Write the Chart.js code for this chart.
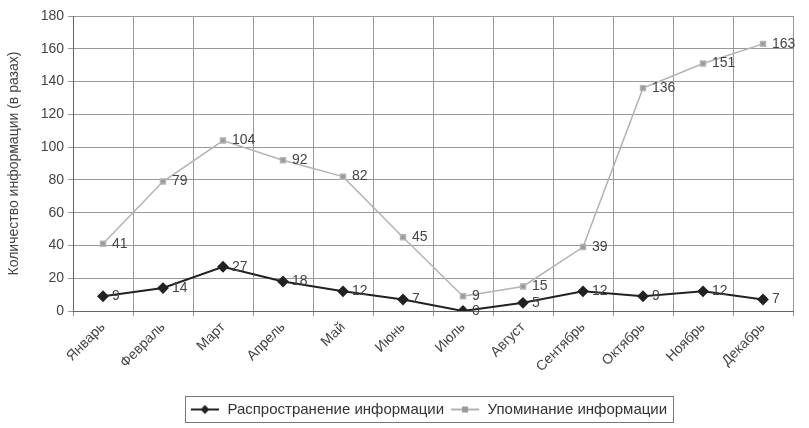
<!DOCTYPE html>
<html>
  <head>
    <title>Chart</title>
    <script src="https://cdn.jsdelivr.net/npm/chart.js"></script>
    <style>
      body { margin: 0; background: #fff; }
      .grafico { width: 809px; height: 428px; }
    </style>
  </head>
  <body>
    <div class="grafico">
      <canvas id="informacia"></canvas>
    </div>

    <script>
      var meses = ["Январь", "Февраль", "Март", "Апрель", "Май", "Июнь",
        "Июль", "Август", "Сентябрь", "Октябрь", "Ноябрь", "Декабрь"];
      var rasprostranenie = [9, 14, 27, 18, 12, 7, 0, 5, 12, 9, 12, 7];
      var upominanie = [41, 79, 104, 92, 82, 45, 9, 15, 39, 136, 151, 163];
      var yTicks = [0, 20, 40, 60, 80, 100, 120, 140, 160, 180];

      var cinza = "#444";
      var fonte = "'Liberation Sans', Arial";

      // small legend symbol: a line with the marker in the middle
      function simbolo(cor, forma) {
        var c = document.createElement("canvas");
        c.width = 30; c.height = 12;
        var g = c.getContext("2d");
        g.strokeStyle = cor; g.lineWidth = forma == "losango" ? 2 : 1.5;
        g.beginPath(); g.moveTo(1, 6); g.lineTo(29, 6); g.stroke();
        g.fillStyle = cor;
        g.beginPath();
        if (forma == "losango") {
          g.moveTo(15, 1.5); g.lineTo(19.5, 6); g.lineTo(15, 10.5); g.lineTo(10.5, 6);
        } else {
          g.rect(12, 3, 6, 6);
        }
        g.closePath(); g.fill();
        return c;
      }

      var rotulos = {
        id: "rotulos",
        afterLayout(chart) {
          // legend sits a little right of centre in the original
          chart.legend.left += 30;
          chart.legend.right += 30;
        },
        afterDatasetsDraw(chart) {
          var ctx = chart.ctx;
          ctx.save();
          ctx.font = "14px " + fonte;
          ctx.fillStyle = cinza;
          ctx.textBaseline = "middle";
          chart.data.datasets.forEach((ds, i) => {
            chart.getDatasetMeta(i).data.forEach((p, j) => {
              ctx.fillText(String(ds.data[j]), p.x + 9, p.y);
            });
          });
          ctx.restore();
        },
        afterDraw(chart) {
          // frame round the legend items only
          var caixas = chart.legend.legendHitBoxes;
          if (!caixas || !caixas.length) return;
          var esq = Math.min(...caixas.map((b) => b.left)) - 5;
          var dir = Math.max(...caixas.map((b) => b.left + b.width)) + 6;
          var topo = caixas[0].top - 6;
          var alt = caixas[0].height + 11;
          var ctx = chart.ctx;
          ctx.save();
          ctx.strokeStyle = "#777";
          ctx.lineWidth = 1;
          ctx.strokeRect(Math.round(esq) + 0.5, Math.round(topo) + 0.5, Math.round(dir - esq), Math.round(alt));
          ctx.restore();
        },
      };

      var grafico = new Chart(document.getElementById("informacia").getContext("2d"), {
        type: "line",
        data: {
          labels: meses,
          datasets: [
            {
              label: "Распространение информации",
              data: rasprostranenie,
              borderColor: "#222",
              backgroundColor: "#222",
              borderWidth: 2,
              pointStyle: "rectRot",
              pointRadius: 4.5,
              pointHoverRadius: 4.5,
              tension: 0,
            },
            {
              label: "Упоминание информации",
              data: upominanie,
              borderColor: "#b3b3b3",
              backgroundColor: "#999",
              borderWidth: 1.5,
              pointStyle: "rect",
              pointRadius: 3.5,
              pointHoverRadius: 3.5,
              tension: 0,
            },
          ],
        },
        options: {
          responsive: true,
          maintainAspectRatio: false,
          animation: false,
          layout: { padding: { top: 16, right: 16, left: 4, bottom: 1 } },
          plugins: {
            tooltip: { enabled: false },
            legend: {
              position: "bottom",
              labels: {
                color: "#333",
                font: { size: 15, family: fonte },
                usePointStyle: true,
                pointStyleWidth: 30,
                boxHeight: 12,
                padding: 6,
                generateLabels(chart) {
                  return chart.data.datasets.map((ds, i) => ({
                    text: ds.label,
                    datasetIndex: i,
                    fontColor: "#333",
                    pointStyle: simbolo(i == 0 ? "#222" : "#999", i == 0 ? "losango" : "quadrado"),
                    lineWidth: 0,
                    strokeStyle: "transparent",
                    fillStyle: "transparent",
                  }));
                },
              },
            },
          },
          scales: {
            x: {
              offset: true,
              grid: { offset: true, color: "#999", lineWidth: 1, tickLength: 5 },
              border: { color: "#666" },
              ticks: {
                color: cinza,
                font: { size: 14, family: fonte },
                maxRotation: 45,
                minRotation: 45,
                autoSkip: false,
              },
              afterFit(scale) { scale.height = 85; },
            },
            y: {
              min: 0,
              max: 180,
              afterBuildTicks(scale) { scale.ticks = yTicks.map((v) => ({ value: v })); },
              grid: { color: "#999", lineWidth: 1, tickLength: 5 },
              border: { color: "#666" },
              ticks: {
                color: cinza,
                font: { size: 14, family: fonte },
                padding: 4,
              },
              title: {
                display: true,
                text: "Количество информации (в разах)",
                color: cinza,
                font: { size: 14, family: fonte },
                padding: 2,
              },
              afterFit(scale) { scale.width = 69; },
            },
          },
        },
        plugins: [rotulos],
      });
    </script>
  </body>
</html>
